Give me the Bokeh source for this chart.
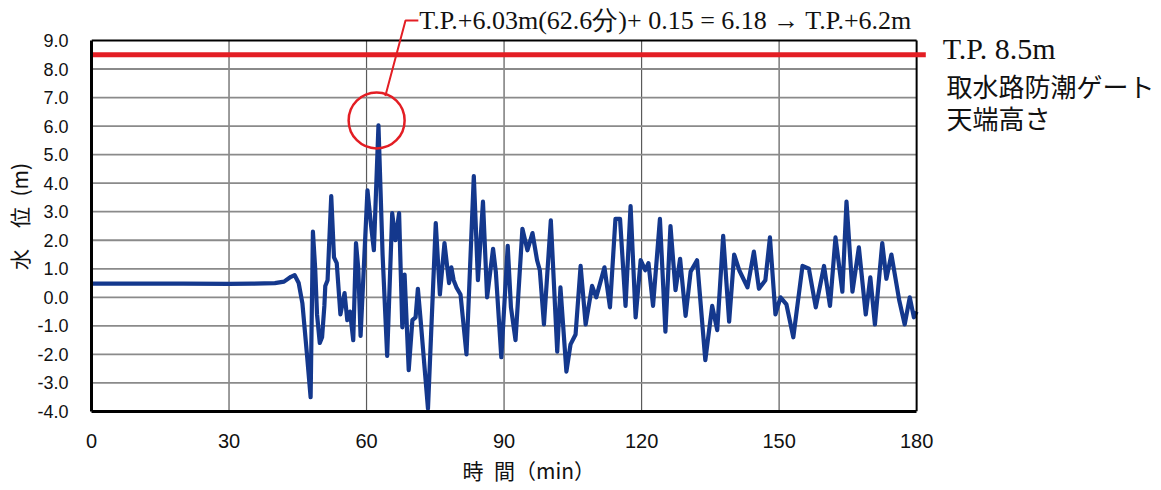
from bokeh.plotting import figure
from bokeh.models import Range1d, Label, FixedTicker, NumeralTickFormatter, Title
from bokeh.embed import file_html
from bokeh.resources import INLINE

# ---- data ----
time_min = [0, 10, 20, 30, 35, 40, 42, 43.5, 44.3, 45.2, 46.0, 47.0, 47.8, 48.3, 48.8,
            49.2, 49.8, 50.3, 50.8, 51.0, 51.5, 52.3, 52.9, 53.5, 54.3, 55.2, 55.8, 56.4,
            57.1, 57.7, 58.2, 58.7, 60.2, 61.0, 61.6, 62.6, 63.5, 64.5, 65.6, 66.3, 67.1,
            67.8, 68.3, 69.2, 70.0, 70.7, 71.2, 71.8, 73.4, 75.1, 76.0, 77.0, 78.0, 78.5,
            79.0, 79.6, 80.5, 81.8, 83.4, 84.3, 85.4, 86.3, 87.6, 88.2, 89.4, 90.8, 91.5,
            92.5, 94.0, 95.1, 96.2, 97.2, 97.8, 98.7, 100.2, 101.6, 102.3, 103.6, 104.5,
            105.6, 106.7, 107.8, 109.2, 110.1, 111.9, 113.1, 114.3, 115.3, 116.5, 117.6,
            118.7, 119.8, 120.8, 121.5, 122.5, 124.0, 125.2, 126.3, 127.4, 128.4, 129.6,
            130.7, 132.1, 133.9, 135.4, 136.5, 137.8, 139.1, 140.2, 141.3, 143.1, 144.5,
            145.6, 147.0, 148.0, 149.2, 150.3, 151.6, 153.1, 155.1, 156.5, 158.0, 159.8,
            161.1, 162.3, 163.8, 164.7, 166.0, 167.4, 168.9, 169.9, 170.9, 172.5, 173.4,
            174.5, 176.2, 177.4, 178.5, 179.4, 180]
water_level = [0.48, 0.48, 0.48, 0.47, 0.48, 0.50, 0.55, 0.72, 0.78, 0.5, -0.2, -2.0, -3.5, 2.3, 1.0,
               -0.6, -1.6, -1.4, -0.3, 0.4, 0.6, 3.55, 1.4, 1.2, -0.6, 0.15, -0.8, -0.5,
               -1.5, 1.9, 1.0, -1.35, 3.75, 2.5, 1.65, 6.03, 1.5, -2.05, 2.95, 2.0, 2.95,
               -1.05, 0.8, -2.55, -0.8, -0.7, 0.3, -0.8, -3.9, 2.6, 0.1, 1.9, 0.5, 1.05,
               0.6, 0.35, 0.1, -2.0, 4.25, 0.6, 3.35, 0.0, 1.7, 0.9, -2.1, 1.8, -0.35,
               -1.5, 2.4, 1.65, 2.25, 1.3, 0.95, -0.95, 2.7, -1.9, 0.35, -2.6, -1.65,
               -1.3, 1.1, -0.95, 0.4, 0.0, 1.05, -0.35, 2.75, 2.75, -0.3, 3.2,
               -0.7, 1.3, 0.95, 1.2, -0.3, 2.75, -1.2, 2.5, 0.25, 1.35, -0.65,
               0.9, 1.3, -2.2, -0.3, -1.15, 2.15, -0.85, 1.5, 0.95, 0.35, 1.6,
               0.3, 0.6, 2.1, -0.6, 0.0, -0.25, -1.4, 1.1, 1.0, -0.35, 1.1,
               -0.3, 2.1, 0.2, 3.35, 0.2, 1.75, -0.6, 0.7, -0.95, 1.9, 0.65,
               1.5, -0.1, -0.95, 0.0, -0.7, -0.5]
gate_height = 8.5
gate_line_x = [0, 182]
peak_time = 62.2
peak_level = 6.2
leader_x = [64.1, 68.5, 71.3]
leader_y = [7.05, 9.70, 9.70]
x_ticks = [0, 30, 60, 90, 120, 150, 180]
y_ticks = [-4, -3, -2, -1, 0, 1, 2, 3, 4, 5, 6, 7, 8, 9]
annot_text = "T.P.+6.03m(62.6分)+ 0.15 = 6.18 → T.P.+6.2m"
gate_text_1 = "T.P. 8.5m"
gate_text_2 = "取水路防潮ゲート"
gate_text_3 = "天端高さ"
x_label = "時\u2002間（min）"
y_label = "水\u3000位\u2002(m)\u3000"

RED = "#e31e24"
NAVY = "#14388d"

X0, X1 = x_ticks[0], x_ticks[-1]
Y0, Y1 = y_ticks[0], y_ticks[-1]

p = figure(width=1160, height=488, x_range=Range1d(X0, 233.2), y_range=Range1d(Y0, 10.40),
           output_backend="svg", toolbar_location=None,
           min_border=0, min_border_left=91, min_border_right=0, min_border_top=0,
           min_border_bottom=77)
p.background_fill_color = "white"
p.border_fill_color = "white"
p.outline_line_color = None
p.xgrid.visible = False
p.ygrid.visible = False

p.xaxis.ticker = FixedTicker(ticks=x_ticks)
p.yaxis.ticker = FixedTicker(ticks=y_ticks)
p.yaxis.formatter = NumeralTickFormatter(format="0.0")
p.xaxis.bounds = (X0, X1)
p.yaxis.bounds = (Y0, Y1)
for ax in (p.xaxis, p.yaxis):
    ax.axis_line_color = "black"
    ax.axis_line_width = 3
    ax.major_tick_line_color = None
    ax.minor_tick_line_color = None
    ax.major_label_text_font = "Liberation Sans"
    ax.major_label_text_color = "#111111"
    ax.axis_label_text_font = "Noto Sans CJK JP"
    ax.axis_label_text_font_style = "normal"
    ax.axis_label_text_color = "#111111"
p.xaxis.major_label_text_font_size = "20px"
p.yaxis.major_label_text_font_size = "18px"
p.yaxis.axis_label_text_font_size = "21px"
p.yaxis.axis_label = y_label
p.xaxis.major_label_standoff = 16
p.yaxis.major_label_standoff = 17
p.yaxis.axis_label_standoff = 0

# x axis title placed under the axis, left-aligned with an offset
p.add_layout(Title(text=x_label, align="left", offset=371, standoff=4,
                   text_font="Noto Sans CJK JP", text_font_size="21px",
                   text_font_style="normal", text_color="#111111"), "below")

# grid lines (drawn only inside the chart box)
inner_x = x_ticks[1:-1]
p.segment(x0=inner_x, y0=[Y0] * len(inner_x), x1=inner_x, y1=[Y1] * len(inner_x),
          line_color="#5a5a5a", line_width=1.2)
inner_y = y_ticks[1:-1]
p.segment(x0=[X0] * len(inner_y), y0=inner_y, x1=[X1] * len(inner_y), y1=inner_y,
          line_color="#8a8a8a", line_width=1.8)

# water level
p.line(time_min, water_level, line_color=NAVY, line_width=4.2, line_join="round")

# box top / right border
p.segment(x0=[X0, X1], y0=[Y1, Y0], x1=[X1, X1], y1=[Y1, Y1], line_color="black", line_width=2)

# gate height line
p.line(gate_line_x, [gate_height, gate_height], line_color=RED, line_width=5)

# circle around the peak and leader
p.scatter([peak_time], [peak_level], marker="circle", size=56, fill_color=None,
          line_color=RED, line_width=2.5)
p.line(leader_x, leader_y, line_color=RED, line_width=2)

p.add_layout(Label(x=71.5, y=9.70, text=annot_text, text_baseline="middle",
                   text_font="Liberation Serif", text_font_size="26px", text_color="#111111"))
p.add_layout(Label(x=185.7, y=8.72, text=gate_text_1, text_baseline="middle",
                   text_font="Liberation Serif", text_font_size="30px", text_color="#111111"))
p.add_layout(Label(x=186.5, y=7.42, text=gate_text_2, text_baseline="middle",
                   text_font="Noto Sans CJK JP", text_font_size="26px", text_color="#111111"))
p.add_layout(Label(x=186.5, y=6.30, text=gate_text_3, text_baseline="middle",
                   text_font="Noto Sans CJK JP", text_font_size="26px", text_color="#111111"))

open("out.html", "w").write(file_html(p, INLINE))
